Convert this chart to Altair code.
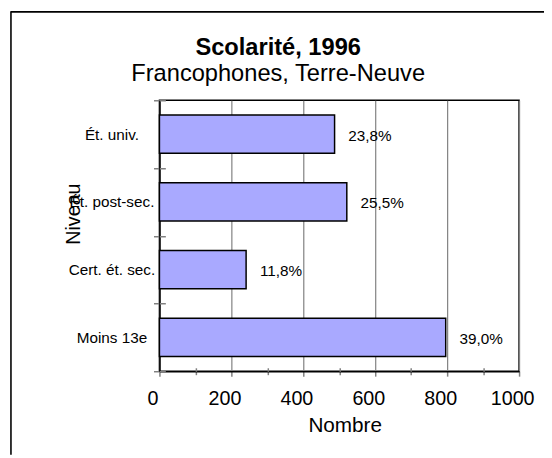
import altair as alt
import pandas as pd

# ---- data ----
categories = ["Ét. univ.", "Ét. post-sec.", "Cert. ét. sec.", "Moins 13e"]
counts = [487, 521, 241, 796]
pct_labels = ["23,8%", "25,5%", "11,8%", "39,0%"]
x_ticks = [0, 100, 200, 300, 400, 500, 600, 700, 800, 900, 1000]

df = pd.DataFrame({"cat": categories, "n": counts, "pct": pct_labels})

FONT = "Liberation Sans"
W, H = 365, 275
PAD_L, PAD_T = 153.7, 90.3
PAD_R = 544 - PAD_L - W
PAD_B = 450 - PAD_T - H

major = "datum.value % 200 == 0"

y_enc = alt.Y(
    "cat:N",
    sort=categories,
    scale=alt.Scale(paddingInner=0, paddingOuter=0),
    axis=alt.Axis(
        title="Niveau",
        titleFont=FONT,
        titleFontSize=20,
        titleFontWeight="normal",
        titleColor="black",
        titleX=-77,
        titleY=115,
        tickBand="extent",
        tickSize=6,
        tickColor="#808080",
        tickWidth=1.5,
        domainColor="black",
        domainWidth=1.5,
        labelFont=FONT,
        labelFontSize=15.5,
        labelColor="black",
        labelAlign="center",
        labelBaseline="middle",
        labelPadding=42.7,
        grid=False,
    ),
)

x_enc = alt.X(
    "n:Q",
    scale=alt.Scale(domain=[0, 1000], nice=False),
    axis=alt.Axis(
        title="Nombre",
        titleFont=FONT,
        titleFontSize=21,
        titleFontWeight="normal",
        titleColor="black",
        titleBaseline="alphabetic",
        titleX=188,
        titleY=61,
        values=x_ticks,
        format="d",
        grid=True,
        gridColor="#808080",
        gridWidth=1.2,
        gridOpacity={"condition": {"test": major, "value": 1}, "value": 0},
        tickSize={"condition": {"test": major, "value": 5}, "value": 3.5},
        tickColor="#808080",
        tickWidth=1.5,
        domainColor="black",
        domainWidth=1.5,
        labelExpr="datum.value % 200 == 0 ? datum.label : ''",
        labelFont=FONT,
        labelFontSize=20,
        labelColor="black",
        labelBaseline="alphabetic",
        labelPadding=28.4,
        labelOffset=-7,
        labelFlush=False,
        labelOverlap=False,
    ),
)

bars = alt.Chart(df).mark_bar(
    height={"band": 0.567},
    fill="#A9A9FF",
    stroke="black",
    strokeWidth=1.5,
).encode(x=x_enc, y=y_enc)

# inner halves of the crossing ticks (secondary axes on the value labels layer)
y_inner = alt.Y(
    "cat:N",
    sort=categories,
    axis=alt.Axis(
        orient="right", offset=-W, tickBand="extent", tickSize=6,
        tickColor="#808080", tickWidth=1.5, labels=False, domain=False,
        title=None, grid=False,
    ),
)
x_inner = alt.X(
    "n:Q",
    axis=alt.Axis(
        orient="top", offset=-H, values=x_ticks,
        tickSize={"condition": {"test": major, "value": 0}, "value": 3.5},
        tickColor="#808080", tickWidth=1.5, labels=False, domain=False,
        title=None, grid=False,
    ),
)

labels = alt.Chart(df).mark_text(
    align="left", baseline="middle", dx=14, dy=1.5,
    font=FONT, fontSize=15.5, color="black",
).encode(x=x_inner, y=y_inner, text="pct:N")

frame_df = pd.DataFrame({"k": [0]})
left_border = alt.Chart(frame_df).mark_rule(color="black", strokeWidth=1.6).encode(
    x=alt.value(-150.7), y=alt.value(-PAD_T), y2=alt.value(H + PAD_B)
)
top_border = alt.Chart(frame_df).mark_rule(color="black", strokeWidth=1.6).encode(
    x=alt.value(-150.7), x2=alt.value(W + PAD_R), y=alt.value(-PAD_T + 0.6)
)

chart = (
    alt.layer(bars, labels, left_border, top_border)
    .resolve_axis(x="independent", y="independent")
    .properties(
        width=W,
        height=H,
        autosize=alt.AutoSizeParams(type="none"),
        padding={"left": PAD_L, "top": PAD_T, "right": PAD_R, "bottom": PAD_B},
        title=alt.TitleParams(
            text="Scolarité, 1996",
            subtitle="Francophones, Terre-Neuve",
            font=FONT,
            fontSize=24,
            fontWeight="bold",
            color="black",
            subtitleFont=FONT,
            subtitleFontSize=24,
            subtitleColor="black",
            anchor="middle",
            frame="group",
            dx=-62,
            offset=-77,
            subtitlePadding=3,
        ),
    )
    .configure(font=FONT)
    .configure_view(stroke="black", strokeWidth=1.5)
)

chart.save("out.html", embed_options={"renderer": "svg", "actions": False})
